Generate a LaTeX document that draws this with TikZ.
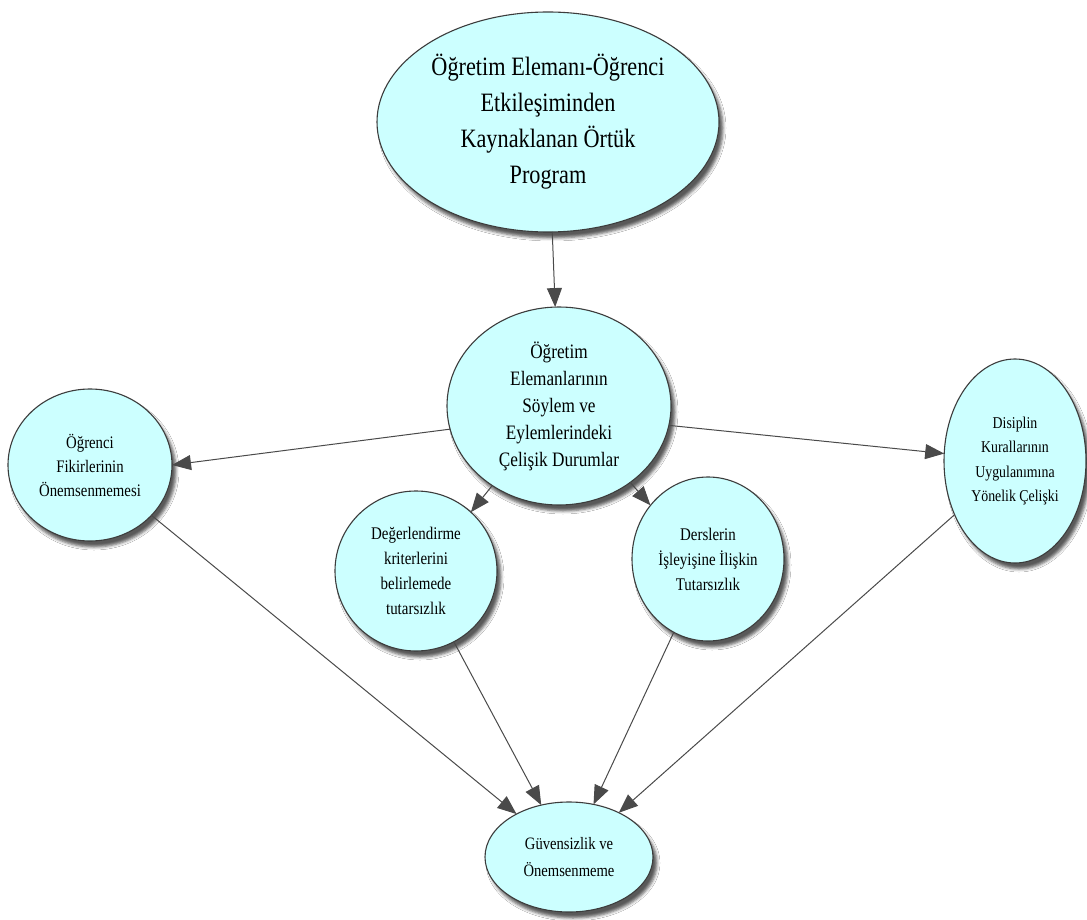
\documentclass[tikz,border=0pt]{standalone}
\usepackage{fontspec}
\setmainfont{Liberation Serif}[FakeStretch=0.84]
\usetikzlibrary{shapes.geometric,arrows.meta,shadows.blur}

\definecolor{bubble}{HTML}{CCFFFF}
\definecolor{rim}{HTML}{3C3C3C}
\definecolor{wire}{HTML}{4A4A4A}

\tikzset{
  bubble/.style={ellipse, draw=rim, line width=1.1pt, fill=bubble,
    inner sep=0pt, outer sep=0pt, align=center,
    blur shadow={shadow xshift=4pt, shadow yshift=-6pt,
      shadow blur radius=3pt, shadow opacity=65}},
  link/.style={draw=wire, line width=1pt,
    -{Triangle[length=19pt,width=15pt,fill=wire]}},
}

\begin{document}
\begin{tikzpicture}[x=1pt,y=-1pt]
  \useasboundingbox[fill=white] (0,0) rectangle (1087,920);

  % main theme
  \node[bubble, minimum width=342pt, minimum height=220pt,
        font=\fontsize{26.5}{36}\selectfont] (top) at (548,122)
    {Öğretim Elemanı-Öğrenci\\Etkileşiminden\\Kaynaklanan Örtük\\Program};

  % central category
  \node[bubble, minimum width=224pt, minimum height=198pt,
        font=\fontsize{20.5}{27}\selectfont] (mid) at (559,406)
    {Öğretim\\Elemanlarının\\Söylem ve\\Eylemlerindeki\\Çelişik Durumlar};

  % sub-themes
  \node[bubble, minimum width=164pt, minimum height=152pt,
        font=\fontsize{17.6}{24}\selectfont] (fikir) at (90,465)
    {Öğrenci\\Fikirlerinin\\Önemsenmemesi};

  \node[bubble, minimum width=162pt, minimum height=160pt,
        font=\fontsize{17.8}{25}\selectfont] (deger) at (416,571)
    {Değerlendirme\\kriterlerini\\belirlemede\\tutarsızlık};

  \node[bubble, minimum width=152pt, minimum height=164pt,
        font=\fontsize{17.8}{25}\selectfont] (ders) at (708,559)
    {Derslerin\\İşleyişine İlişkin\\Tutarsızlık};

  \node[bubble, minimum width=142pt, minimum height=204pt,
        font=\fontsize{16.5}{24.5}\selectfont] (disiplin) at (1015,461)
    {Disiplin\\Kurallarının\\Uygulanımına\\Yönelik Çelişki};

  % outcome
  \node[bubble, minimum width=168pt, minimum height=110pt,
        font=\fontsize{17.4}{27}\selectfont] (guven) at (569,857)
    {Güvensizlik ve\\Önemsenmeme};

  % connectors
  \path[link] (top) -- (mid);
  \path[link] (mid.192) -- (fikir.east);
  \path[link] (mid.350) -- (disiplin.174);
  \path[link] (mid.230) -- (deger.47);
  \path[link] (mid.313) -- (ders.137);

  \path[link] (fikir) -- (guven);
  \path[link] (deger) -- (guven);
  \path[link] (ders) -- (guven);
  \path[link] (disiplin) -- (guven);
\end{tikzpicture}
\end{document}
